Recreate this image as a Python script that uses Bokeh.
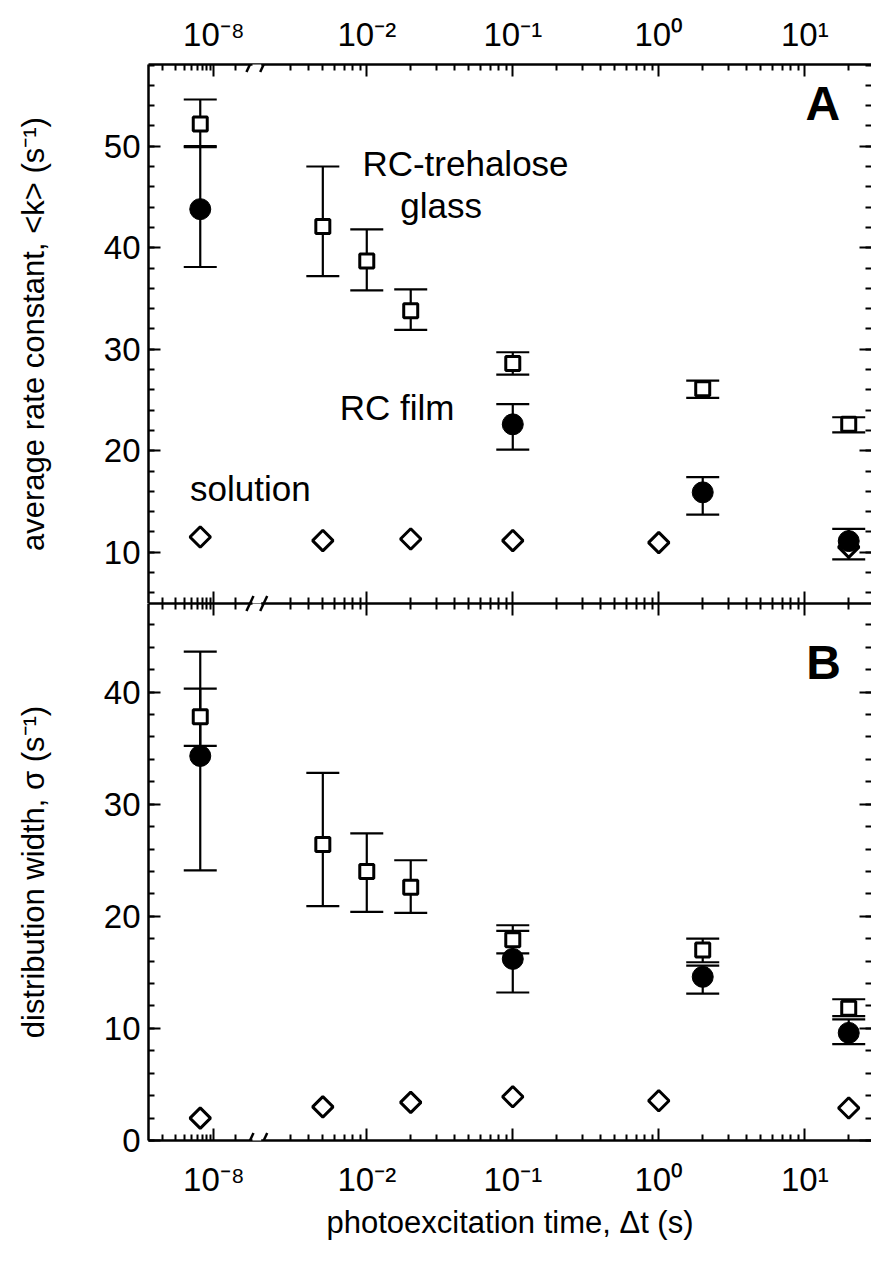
import math
from bokeh.plotting import figure
from bokeh.models import (ColumnDataSource, Range1d, FixedTicker, LinearAxis, Whisker,
                          TeeHead, Label, Arrow)
from bokeh.layouts import column
from bokeh.embed import file_html
from bokeh.resources import INLINE

# ---------------- data ----------------
glass_t = [6.5e-9, 5e-3, 1e-2, 2e-2, 0.1, 2.0, 20.0]
glass_k = [52.2, 42.1, 38.7, 33.8, 28.6, 26.1, 22.6]
glass_k_lo = [50.0, 37.2, 35.8, 31.9, 27.5, 25.2, 21.8]
glass_k_hi = [54.6, 48.0, 41.8, 35.9, 29.7, 26.9, 23.3]

film_t = [6.5e-9, 0.1, 2.0, 20.0]
film_k = [43.8, 22.6, 15.9, 11.1]
film_k_lo = [38.1, 20.1, 13.7, 9.3]
film_k_hi = [49.9, 24.6, 17.4, 12.3]

sol_t = [6.5e-9, 5e-3, 2e-2, 0.1, 1.0, 20.0]
sol_k = [11.5, 11.15, 11.3, 11.15, 10.95, 10.5]

glass_s = [37.8, 26.4, 24.0, 22.6, 17.9, 17.0, 11.8]
glass_s_lo = [35.2, 20.9, 20.4, 20.3, 16.7, 15.9, 11.1]
glass_s_hi = [40.3, 32.8, 27.4, 25.0, 19.2, 18.0, 12.6]

film_s = [34.3, 16.2, 14.6, 9.6]
film_s_lo = [24.1, 13.2, 13.1, 8.6]
film_s_hi = [43.6, 18.7, 15.6, 10.8]

sol_s = [2.0, 3.0, 3.4, 3.9, 3.55, 2.9]

x_major_t = [1e-8, 1e-2, 1e-1, 1.0, 10.0]
x_major_labels = ["10\u207b\u2078", "10\u207b\u00b2", "10\u207b\u00b9", "10\u2070", "10\u00b9"]

top_y_major = [10, 20, 30, 40, 50]
bot_y_major = [0, 10, 20, 30, 40]

# ---------------- broken log axis transform ----------------
LEFT_ANCHOR = -3.047      # position of 1e-8 in axis units
LEFT_SCALE = 0.5          # compressed decade width in the left segment
SEG_SPLIT = 1e-6


def to_u(t):
    if t < SEG_SPLIT:
        return LEFT_ANCHOR + LEFT_SCALE * (math.log10(t) + 8)
    return math.log10(t)


U_MIN, U_MAX = -3.495, 1.457
LEFT_END_U, RIGHT_START_U = -2.84, -2.66
BREAK_U1, BREAK_U2 = -2.8, -2.706

major_u = [round(to_u(t), 5) for t in x_major_t]
minor_u = []
for k in range(2, 10):
    u = to_u(k * 1e-9)
    if U_MIN < u < LEFT_END_U:
        minor_u.append(u)
    u = to_u(k * 1e-8)
    if U_MIN < u < LEFT_END_U:
        minor_u.append(u)
for d in range(-3, 2):
    for k in range(2, 10):
        u = to_u(k * 10.0 ** d)
        if RIGHT_START_U < u < U_MAX:
            minor_u.append(u)
x_overrides = {u: lab for u, lab in zip(major_u, x_major_labels)}

FONT = "Liberation Sans"
W = 871
LEFT_B = 148
FRAME_W = W - LEFT_B
TOP_B = 64
TOP_FRAME_H = 539
BOT_FRAME_H = 537
BOT_B = 1262 - TOP_B - TOP_FRAME_H - BOT_FRAME_H

TOP_Y = (4.95, 58.05)
BOT_Y = (0.0, 47.9)


def base_fig(height, yr, tb, bb):
    p = figure(width=W, height=height, x_range=Range1d(U_MIN, U_MAX), y_range=Range1d(*yr),
               output_backend="svg", toolbar_location=None,
               min_border_left=LEFT_B, min_border_right=0, min_border_top=tb, min_border_bottom=bb,
               x_axis_location=None, y_axis_location=None)
    p.outline_line_color = None
    p.xgrid.visible = False
    p.ygrid.visible = False
    p.background_fill_color = "white"
    p.border_fill_color = "white"
    return p


def add_axis(p, side, ticker, labels=False, overrides=None, title=None):
    ax = LinearAxis(ticker=ticker)
    ax.axis_line_width = 2.5
    ax.axis_line_color = "black"
    ax.major_tick_in = 12
    ax.major_tick_out = 0
    ax.minor_tick_in = 6
    ax.minor_tick_out = 0
    ax.major_tick_line_width = 2
    ax.minor_tick_line_width = 2
    ax.major_label_text_font = FONT
    if labels:
        ax.major_label_text_color = "black"
        ax.major_label_text_font_size = "33px"
        ax.major_label_standoff = {"left": 8, "above": 12, "below": 20}[side]
    else:
        ax.major_label_text_color = None
        ax.major_label_text_font_size = "1px"
        ax.major_label_standoff = 0
    if overrides:
        ax.major_label_overrides = overrides
    if title:
        ax.axis_label = title
        ax.axis_label_text_font = FONT
        ax.axis_label_text_font_size = "31px"
        ax.axis_label_text_font_style = "normal"
        ax.axis_label_text_color = "black"
        ax.axis_label_standoff = 50 if side == "left" else 4
    p.add_layout(ax, side)
    return ax


xt = FixedTicker(ticks=major_u, minor_ticks=minor_u)

# ---------------- top panel ----------------
pt = base_fig(TOP_B + TOP_FRAME_H, TOP_Y, TOP_B, 0)
add_axis(pt, "above", xt, labels=True, overrides=x_overrides)
add_axis(pt, "below", xt)
yt_top = FixedTicker(ticks=top_y_major, minor_ticks=list(range(6, 59, 2)))
add_axis(pt, "left", yt_top, labels=True, title="average rate constant, <k> (s\u207b\u00b9)")
ar = add_axis(pt, "right", yt_top)
ar.axis_line_color = None

# ---------------- bottom panel ----------------
pb = base_fig(BOT_FRAME_H + BOT_B, BOT_Y, 0, BOT_B)
add_axis(pb, "above", xt)
add_axis(pb, "below", xt, labels=True, overrides=x_overrides, title="photoexcitation time, \u0394t (s)")
yt_bot = FixedTicker(ticks=bot_y_major, minor_ticks=list(range(0, 49, 2)))
add_axis(pb, "left", yt_bot, labels=True, title="distribution width, \u03c3 (s\u207b\u00b9)")
br = add_axis(pb, "right", yt_bot)
br.axis_line_color = None


def draw_series(p, gt, gy, glo, ghi, ft, fy, flo, fhi, st, sy):
    gsrc = ColumnDataSource(dict(u=[to_u(t) for t in gt], y=gy, lo=glo, hi=ghi))
    fsrc = ColumnDataSource(dict(u=[to_u(t) for t in ft], y=fy, lo=flo, hi=fhi))
    ssrc = ColumnDataSource(dict(u=[to_u(t) for t in st], y=sy))
    for src in (fsrc, gsrc):
        w = Whisker(base="u", lower="lo", upper="hi", source=src, line_width=2.2, line_color="black",
                    upper_head=TeeHead(size=33, line_width=2.2, line_color="black"),
                    lower_head=TeeHead(size=33, line_width=2.2, line_color="black"))
        p.add_layout(w)
    p.scatter("u", "y", source=ssrc, marker="square", angle=math.pi / 4, size=14.5,
              fill_color="white", line_color="black", line_width=3)
    p.scatter("u", "y", source=fsrc, marker="circle", size=21,
              fill_color="black", line_color="black", line_width=1)
    p.scatter("u", "y", source=gsrc, marker="square", size=14,
              fill_color="white", line_color="black", line_width=3)


draw_series(pt, glass_t, glass_k, glass_k_lo, glass_k_hi, film_t, film_k, film_k_lo, film_k_hi, sol_t, sol_k)
draw_series(pb, glass_t, glass_s, glass_s_lo, glass_s_hi, film_t, film_s, film_s_lo, film_s_hi, sol_t, sol_s)


def lab(p, x, y, text, size="35px", bold=False):
    p.add_layout(Label(x=x, y=y, text=text, text_font=FONT, text_font_size=size,
                       text_font_style="bold" if bold else "normal", text_color="black",
                       text_baseline="alphabetic", text_align="left"))


lab(pt, -2.03, 48.3, "RC-trehalose")
lab(pt, -1.77, 44.2, "glass")
lab(pt, -2.185, 24.3, "RC film")
lab(pt, -3.21, 16.3, "solution")
lab(pt, 1.005, 54.2, "A", size="48px", bold=True)
lab(pb, 1.01, 42.6, "B", size="48px", bold=True)

# ---------------- axis-break marks ----------------
px_u = (U_MAX - U_MIN) / FRAME_W


def break_marks(p, y0, px_y, up=True, down=True):
    gap = Arrow(end=None, x_start=BREAK_U1 + 2.5 * px_u, y_start=y0, x_end=BREAK_U2 - 2.5 * px_u, y_end=y0,
                line_color="white", line_width=5)
    p.add_layout(gap)
    for ub in (BREAK_U1, BREAK_U2):
        ya = y0 - (7.5 * px_y if down else 0)
        yb = y0 + (7.5 * px_y if up else 0)
        xa = ub - (3.5 * px_u if down else 0)
        xb = ub + (3.5 * px_u if up else 0)
        p.add_layout(Arrow(end=None, x_start=xa, y_start=ya, x_end=xb, y_end=yb,
                           line_color="black", line_width=2.5))


top_px_y = (TOP_Y[1] - TOP_Y[0]) / TOP_FRAME_H
bot_px_y = (BOT_Y[1] - BOT_Y[0]) / BOT_FRAME_H
break_marks(pt, TOP_Y[1], top_px_y)
break_marks(pt, TOP_Y[0], top_px_y, up=True, down=False)
break_marks(pb, BOT_Y[1], bot_px_y, up=False, down=True)
break_marks(pb, BOT_Y[0], bot_px_y)

layout = column(pt, pb, spacing=0)
open("out.html", "w").write(file_html(layout, INLINE))
